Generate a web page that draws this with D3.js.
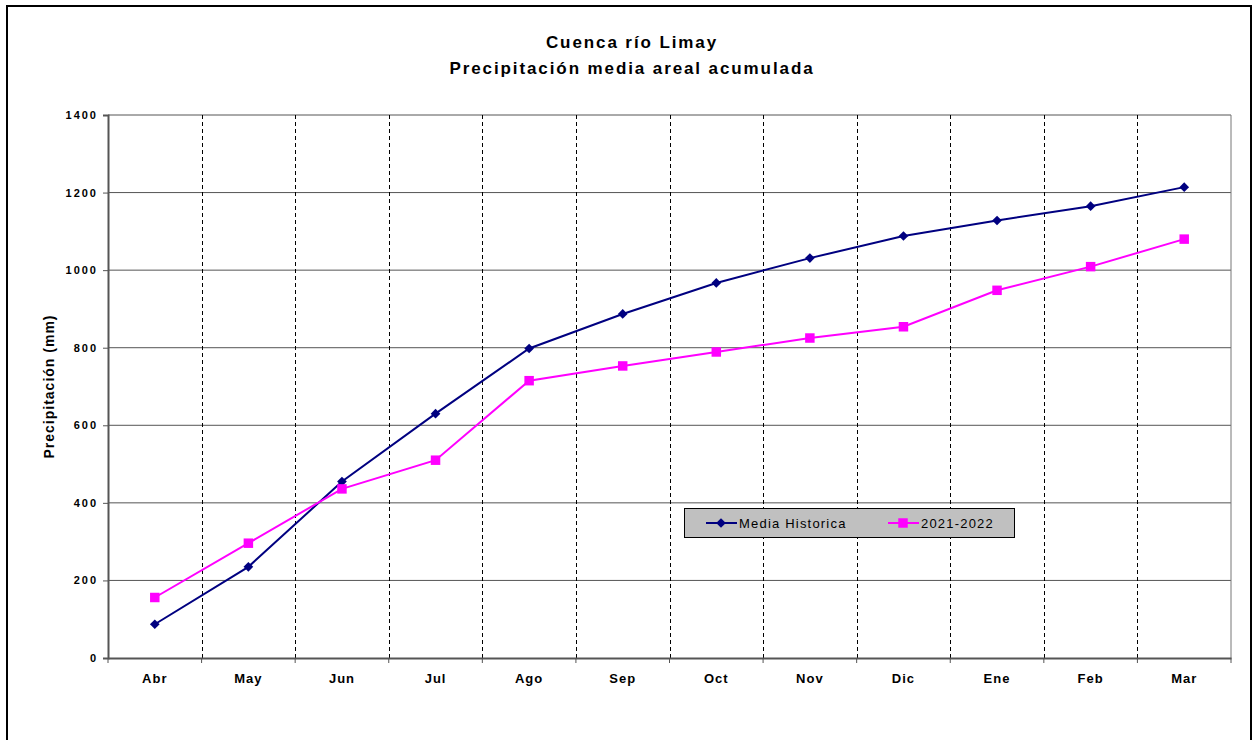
<!DOCTYPE html>
<html lang="en">
<head>
<meta charset="utf-8">
<title>Cuenca río Limay</title>
<script src="https://cdn.jsdelivr.net/npm/d3@7"></script>
<style>
  body { margin: 0; background: #fff; }
  text { font-family: "Liberation Sans", Arial, sans-serif; }
</style>
</head>
<body>
<script>
var months = ["Abr", "May", "Jun", "Jul", "Ago", "Sep", "Oct", "Nov", "Dic", "Ene", "Feb", "Mar"];
var mediaHistorica = [87, 235, 455, 630, 798, 887, 967, 1031, 1088, 1128, 1165, 1214];
var temporada = [156, 296, 436, 510, 715, 753, 789, 825, 854, 948, 1009, 1080];
var yTicks = [0, 200, 400, 600, 800, 1000, 1200, 1400];

var W = 1254, H = 740;
var plot = {left: 108, top: 115, right: 1231, bottom: 658};

var svg = d3.select("body").append("svg")
  .attr("width", W).attr("height", H);

svg.append("rect")
  .attr("x", 7).attr("y", 6)
  .attr("width", 1244).attr("height", 760)
  .attr("fill", "#fff").attr("stroke", "#000").attr("stroke-width", 2);

var x = d3.scaleBand().domain(months).range([plot.left, plot.right]);
var y = d3.scaleLinear().domain([0, 1400]).range([plot.bottom, plot.top]);

// horizontal gridlines
svg.append("g").selectAll("line").data(yTicks.slice(1)).enter().append("line")
  .attr("x1", plot.left).attr("x2", plot.right)
  .attr("y1", function(d) { return y(d); }).attr("y2", function(d) { return y(d); })
  .attr("stroke", "#555").attr("stroke-width", 1);

// vertical dashed gridlines
svg.append("g").selectAll("line").data(months.slice(1)).enter().append("line")
  .attr("x1", function(d) { return Math.round(x(d)) + 0.5; })
  .attr("x2", function(d) { return Math.round(x(d)) + 0.5; })
  .attr("y1", plot.top).attr("y2", plot.bottom)
  .attr("stroke", "#000").attr("stroke-width", 1)
  .attr("stroke-dasharray", "4,3");

// right border of plot
svg.append("line")
  .attr("x1", plot.right).attr("x2", plot.right)
  .attr("y1", plot.top).attr("y2", plot.bottom)
  .attr("stroke", "#777").attr("stroke-width", 1);

// y axis
var yAxis = svg.append("g")
  .attr("transform", "translate(" + plot.left + ",0)")
  .call(d3.axisLeft(y).tickValues(yTicks).tickFormat(d3.format("d")).tickSize(5).tickPadding(5));
yAxis.select(".domain").attr("stroke", "#555").attr("stroke-width", 2);
yAxis.selectAll(".tick line").attr("stroke", "#555");
yAxis.selectAll("text").attr("font-size", 11).attr("font-weight", "bold").attr("fill", "#000")
  .attr("letter-spacing", 2)
  .style("font-family", "'Liberation Sans', Arial, sans-serif");

// x axis
var xAxis = svg.append("g")
  .attr("transform", "translate(0," + plot.bottom + ")")
  .call(d3.axisBottom(x).tickSize(0).tickPadding(16));
xAxis.select(".domain").attr("stroke", "#555").attr("stroke-width", 2);
xAxis.selectAll("text").attr("font-size", 13).attr("font-weight", "bold").attr("fill", "#000")
  .attr("letter-spacing", 1)
  .style("font-family", "'Liberation Sans', Arial, sans-serif");
svg.append("g").selectAll("line").data(months.concat(["end"])).enter().append("line")
  .attr("x1", function(d, i) { return plot.left + i * x.step(); })
  .attr("x2", function(d, i) { return plot.left + i * x.step(); })
  .attr("y1", plot.bottom).attr("y2", plot.bottom + 5)
  .attr("stroke", "#555").attr("stroke-width", 1);

// series
function cx(d, i) { return x(months[i]) + x.bandwidth() / 2; }

var lineGen = d3.line().x(cx).y(function(d) { return y(d); });

svg.append("path").datum(mediaHistorica)
  .attr("d", lineGen).attr("fill", "none")
  .attr("stroke", "#000080").attr("stroke-width", 2);
svg.append("path").datum(temporada)
  .attr("d", lineGen).attr("fill", "none")
  .attr("stroke", "#ff00ff").attr("stroke-width", 2);

var diamond = d3.symbol().type(d3.symbolDiamond2).size(60);
var square = d3.symbol().type(d3.symbolSquare).size(90);

svg.append("g").selectAll("path").data(mediaHistorica).enter().append("path")
  .attr("d", diamond)
  .attr("transform", function(d, i) { return "translate(" + cx(d, i) + "," + y(d) + ")"; })
  .attr("fill", "#000080");
svg.append("g").selectAll("path").data(temporada).enter().append("path")
  .attr("d", square)
  .attr("transform", function(d, i) { return "translate(" + cx(d, i) + "," + y(d) + ")"; })
  .attr("fill", "#ff00ff");

// titles
svg.append("text").attr("x", 632).attr("y", 48).attr("text-anchor", "middle")
  .attr("font-size", 17).attr("font-weight", "bold").attr("letter-spacing", 1.9)
  .text("Cuenca río Limay");
svg.append("text").attr("x", 632).attr("y", 74).attr("text-anchor", "middle")
  .attr("font-size", 17).attr("font-weight", "bold").attr("letter-spacing", 1.9)
  .text("Precipitación media areal acumulada");

svg.append("text")
  .attr("transform", "translate(54," + ((plot.top + plot.bottom) / 2) + ") rotate(-90)")
  .attr("text-anchor", "middle")
  .attr("font-size", 14).attr("font-weight", "bold").attr("letter-spacing", 1)
  .text("Precipitación (mm)");

// legend
var lg = svg.append("g");
lg.append("rect").attr("x", 684.5).attr("y", 508.5).attr("width", 330).attr("height", 29)
  .attr("fill", "#c0c0c0").attr("stroke", "#000").attr("stroke-width", 1);
var legendItems = [
  {name: "Media Historica", color: "#000080", sym: diamond, x0: 706},
  {name: "2021-2022", color: "#ff00ff", sym: square, x0: 888}
];
legendItems.forEach(function(it) {
  lg.append("line").attr("x1", it.x0).attr("x2", it.x0 + 31)
    .attr("y1", 523).attr("y2", 523)
    .attr("stroke", it.color).attr("stroke-width", 2);
  lg.append("path").attr("d", it.sym)
    .attr("transform", "translate(" + (it.x0 + 15) + ",523)")
    .attr("fill", it.color);
  lg.append("text").attr("x", it.x0 + 33).attr("y", 528)
    .attr("font-size", 13).attr("letter-spacing", 1.2).text(it.name);
});
</script>
</body>
</html>
